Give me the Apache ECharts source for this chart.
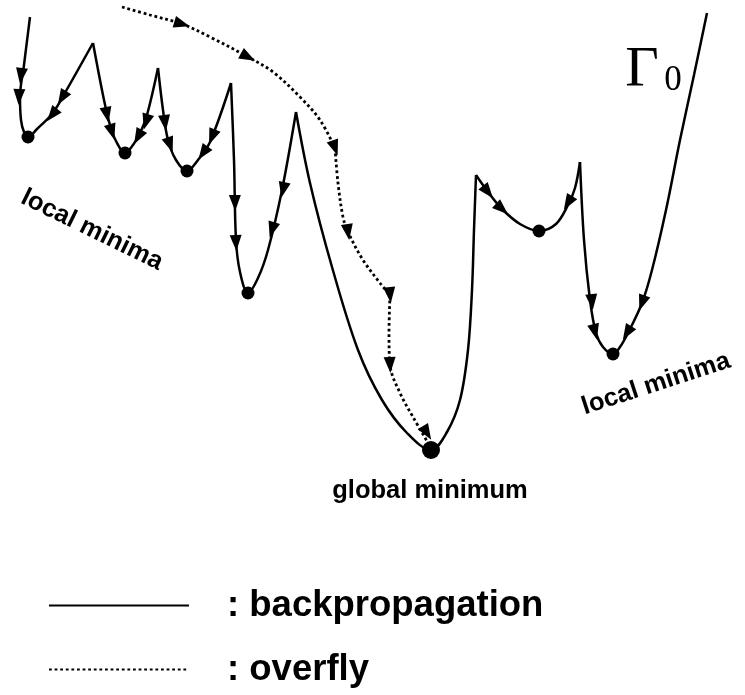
<!DOCTYPE html>
<html>
<head>
<meta charset="utf-8">
<script src="https://cdn.jsdelivr.net/npm/echarts@6/dist/echarts.min.js"></script>
<style>
  html, body { margin: 0; padding: 0; background: #fff; }
  #main { width: 745px; height: 695px; }
</style>
</head>
<body>
<div id="main"></div>
<script>
// ---------------- data (picture coordinates, y grows downwards) ----------------
// backpropagation: one piece per valley, peak -> minimum -> peak
const bp1 = [[30, 17], [24, 65], [20, 97], [21, 120], [24, 132], [28, 137], [37, 129], [52, 114], [62, 98], [93, 43]]
const bp2 = [[93, 43], [104, 100], [110, 125], [116, 141], [125, 153], [133, 145], [140, 133], [147, 115], [158, 68]]
const bp3 = [[158, 68], [163, 110], [168, 140], [176, 160], [187, 171], [198, 160], [210, 142], [231, 83]]
const bp4 = [[231, 83], [234, 160], [236, 240], [240, 272], [248, 293], [258, 278], [268, 250], [282, 190], [296, 112]]
const bp5 = [[296, 112], [310, 183], [332, 267], [358, 350], [382, 400], [407, 433], [431, 450], [447, 432], [460, 400], [468, 350], [472, 290], [474, 230], [476, 175]]
const bp6 = [[476, 175], [488, 192], [502, 209], [520, 224], [539, 231], [556, 224], [568, 205], [575, 188], [580, 162]]
const bp7 = [[580, 162], [584, 240], [590, 300], [596, 333], [603, 347], [613, 354], [620, 347], [628, 333], [642, 303], [652, 270], [666, 210], [680, 140], [694, 75], [707, 13]]

// overfly: dotted path over the landscape
const of1 = [[122, 7], [150, 15], [182, 24], [210, 37], [248, 57], [273, 72], [300, 97], [320, 120], [335, 148]]
const of2 = [[335, 148], [338, 183], [343, 217], [348, 232], [363, 260], [380, 283], [390, 295]]
const of3 = [[390, 295], [389, 333], [390, 365], [400, 393], [413, 417], [431, 448]]

// arrow heads: [x, y, dx, dy] (dx, dy = direction of travel)
const bpArrows = [
  [21, 76, -0.13, 1], [19, 97, -0.05, 1],
  [62, 98, -0.6, 1], [52, 115, -0.8, 1],
  [107, 115, 0.2, 1], [112, 132, 0.3, 1],
  [146, 122, -0.3, 1], [138, 137, -0.55, 1],
  [165, 123, 0.12, 1], [170, 145, 0.35, 1],
  [212, 137, -0.4, 1], [203, 153, -0.7, 1],
  [235, 203, 0.02, 1], [236, 243, 0.05, 1],
  [283, 190, -0.22, 1], [272, 230, -0.3, 1],
  [488, 192, 0.8, 1], [502, 209, 1, 0.9],
  [568, 203, -0.6, 1],
  [592, 302, 0.1, 1], [595, 332, 0.25, 1],
  [642, 303, -0.35, 1], [627, 333, -0.6, 1]
]
const ofArrows = [
  [182, 24, 1, 0.3], [248, 57, 1, 0.55], [335, 148, 0.35, 1],
  [348, 232, 0.15, 1], [390, 295, 0.1, 1], [390, 365, 0.05, 1], [427, 433, 0.6, 1]
]

const localMinima = [[28, 137], [125, 153], [187, 171], [248, 293], [539, 231], [613, 354]]
const globalMinimum = [[431, 450]]

// text labels: [x, y, text, rotate]
const labels = [
  [92, 230, 'local minima', -26],
  [656, 384, 'local minima', 18],
  [430, 491, 'global minimum', 0]
]

const sans = '"Helvetica Neue", Helvetica, Arial, "Liberation Sans", sans-serif'
const serif = '"Liberation Serif", "Times New Roman", serif'

// ---------------- chart ----------------
let myChart = echarts.init(document.querySelector('#main'))

function curve(name, pts, dotted) {
  return {
    name: name,
    type: 'line',
    data: pts,
    smooth: 0.35,
    symbol: 'none',
    silent: true,
    color: '#000',
    lineStyle: {
      color: '#000',
      width: dotted ? 2.8 : 2.5,
      type: dotted ? [2.8, 2.8] : 'solid'
    },
    z: dotted ? 3 : 2
  }
}

function arrows(list) {
  return {
    type: 'scatter',
    symbol: 'triangle',
    symbolSize: [12, 16],
    silent: true,
    itemStyle: { color: '#000', opacity: 1 },
    z: 5,
    data: list.map(a => ({
      value: [a[0], a[1]],
      // triangle points up by default, symbolRotate turns it counter-clockwise
      symbolRotate: Math.atan2(-a[2], -a[3]) * 180 / Math.PI
    }))
  }
}

function texts(list) {
  return {
    type: 'scatter',
    symbolSize: 0,
    silent: true,
    itemStyle: { opacity: 1 },
    z: 7,
    data: list
  }
}

let option = {
  animation: false,
  grid: { left: 0, right: 0, top: 0, bottom: 0 },
  xAxis: { type: 'value', min: 0, max: 745, show: false },
  yAxis: { type: 'value', min: 0, max: 695, inverse: true, show: false },
  legend: {
    orient: 'vertical',
    left: 43,
    top: 582,
    itemWidth: 140,
    itemHeight: 20,
    itemGap: 27,
    selectedMode: false,
    data: ['backpropagation', 'overfly'],
    formatter: name => ': ' + name,
    itemStyle: { color: '#000', opacity: 0 },
    textStyle: {
      fontSize: 36.5,
      fontWeight: 'bold',
      color: '#000',
      fontFamily: sans,
      padding: [0, 0, 0, 33]
    }
  },
  series: [
    curve('backpropagation', bp1),
    curve('backpropagation', bp2),
    curve('backpropagation', bp3),
    curve('backpropagation', bp4),
    curve('backpropagation', bp5),
    curve('backpropagation', bp6),
    curve('backpropagation', bp7),
    curve('overfly', of1, true),
    curve('overfly', of2, true),
    curve('overfly', of3, true),
    arrows(bpArrows),
    arrows(ofArrows),
    {
      type: 'scatter',
      symbolSize: 13,
      silent: true,
      itemStyle: { color: '#000', opacity: 1 },
      z: 6,
      data: localMinima
    },
    {
      type: 'scatter',
      symbolSize: 18,
      silent: true,
      itemStyle: { color: '#000', opacity: 1 },
      z: 6,
      data: globalMinimum
    },
    texts(labels.map(l => ({
      value: [l[0], l[1]],
      label: {
        show: true,
        position: 'inside',
        formatter: l[2],
        rotate: l[3],
        fontSize: 25.5,
        fontWeight: 'bold',
        color: '#000',
        fontFamily: sans
      }
    }))),
    texts([
      { value: [642, 71], label: { show: true, position: 'inside', formatter: 'Γ', fontSize: 58, fontFamily: serif, color: '#000' } },
      { value: [673, 81], label: { show: true, position: 'inside', formatter: '0', fontSize: 35, fontFamily: serif, color: '#000' } }
    ])
  ]
}
myChart.setOption(option)
</script>
</body>
</html>
